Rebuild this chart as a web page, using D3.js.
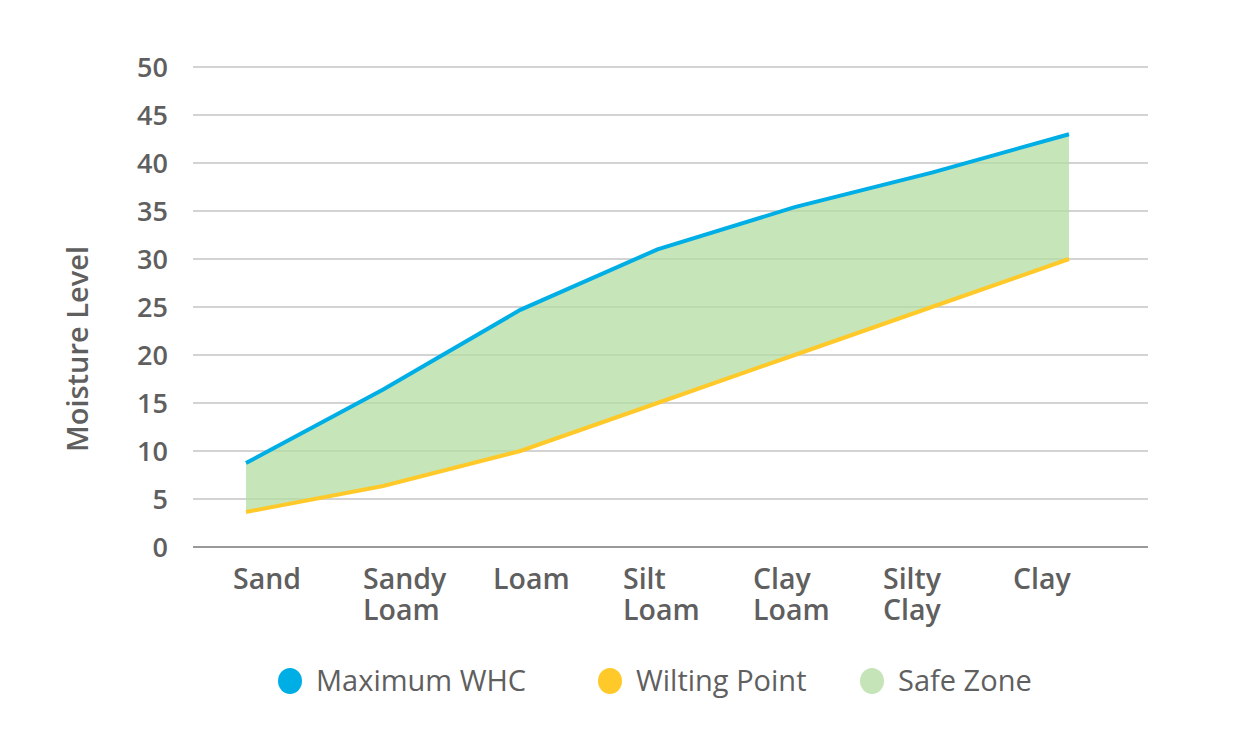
<!DOCTYPE html>
<html><head><meta charset="utf-8">
<script src="https://cdn.jsdelivr.net/npm/d3@7"></script>
<style>body{margin:0;background:#fff;}svg{display:block;font-family:"Open Sans",sans-serif;}</style>
</head><body>
<svg id="c" width="1241" height="730"></svg>
<script>
const categories = ["Sand", "Sandy Loam", "Loam", "Silt Loam", "Clay Loam", "Silty Clay", "Clay"];
const maxWHC = [8.75, 16.4, 24.7, 31.0, 35.4, 39.0, 43.0];
const wiltingPoint = [3.65, 6.35, 10.0, 15.0, 20.0, 25.0, 30.0];
const yTicks = [0, 5, 10, 15, 20, 25, 30, 35, 40, 45, 50];
const legendItems = ["Maximum WHC", "Wilting Point", "Safe Zone"];

(function () {
const colors = {blue: "#00aee6", yellow: "#ffc92a", green: "#b3dca0", text: "#5f5f5f", grid: "#a8a8a8"};
const svg = d3.select("#c");
const mLeft = 193, mRight = 1148, mTop = 67, mBottom = 547;

const y = d3.scaleLinear().domain([0, 50]).range([mBottom, mTop]);
const xLine = d3.scalePoint().domain(categories).range([246, 1069]);
const xLab = d3.scalePoint().domain(categories).range([233, 1013]);

// grid
svg.append("g").selectAll("line").data(yTicks).join("line")
  .attr("x1", mLeft).attr("x2", mRight)
  .attr("y1", d => y(d)).attr("y2", d => y(d))
  .attr("stroke", d => d === 0 ? "#999" : colors.grid)
  .attr("stroke-width", d => d === 0 ? 2 : 1.2);

// y labels
svg.append("g").selectAll("text").data(yTicks).join("text")
  .attr("x", 168).attr("y", d => y(d)).attr("dy", "0.36em")
  .attr("text-anchor", "end").attr("fill", colors.text)
  .attr("font-size", 27).attr("font-weight", 600).text(d => d);

const data = categories.map((c, i) => ({c, hi: maxWHC[i], lo: wiltingPoint[i]}));

// area
svg.append("path").datum(data)
  .attr("d", d3.area().x(d => xLine(d.c)).y0(d => y(d.lo)).y1(d => y(d.hi)))
  .attr("fill", colors.green).attr("fill-opacity", 0.75);

svg.append("path").datum(data)
  .attr("d", d3.line().x(d => xLine(d.c)).y(d => y(d.lo)))
  .attr("fill", "none").attr("stroke", colors.yellow).attr("stroke-width", 4);
svg.append("path").datum(data)
  .attr("d", d3.line().x(d => xLine(d.c)).y(d => y(d.hi)))
  .attr("fill", "none").attr("stroke", colors.blue).attr("stroke-width", 4);

// x labels (one text per line)
const lines = [];
categories.forEach(c => c.split(" ").forEach((w, i) => lines.push({c, w, i})));
svg.append("g").selectAll("text").data(lines).join("text")
  .attr("x", d => xLab(d.c)).attr("y", d => 589 + d.i * 31)
  .attr("fill", colors.text).attr("font-size", 28.5).attr("font-weight", 600)
  .text(d => d.w);

// y title
svg.append("text").attr("transform", "translate(88,349) rotate(-90)")
  .attr("text-anchor", "middle").attr("fill", colors.text)
  .attr("font-size", 29).attr("font-weight", 600).text("Moisture Level");

// legend
const legX = [290, 610, 872];
const legC = [colors.blue, colors.yellow, "#c5e4b8"];
const lg = svg.append("g").selectAll("g").data(legendItems).join("g")
  .attr("transform", (d, i) => `translate(${legX[i]},681)`);
lg.append("ellipse").attr("rx", 12).attr("ry", 13).attr("fill", (d, i) => legC[i]);
lg.append("text").attr("x", 26).attr("dy", "0.36em").attr("fill", colors.text)
  .attr("font-size", 29).text(d => d);
})();
</script>
</body></html>
